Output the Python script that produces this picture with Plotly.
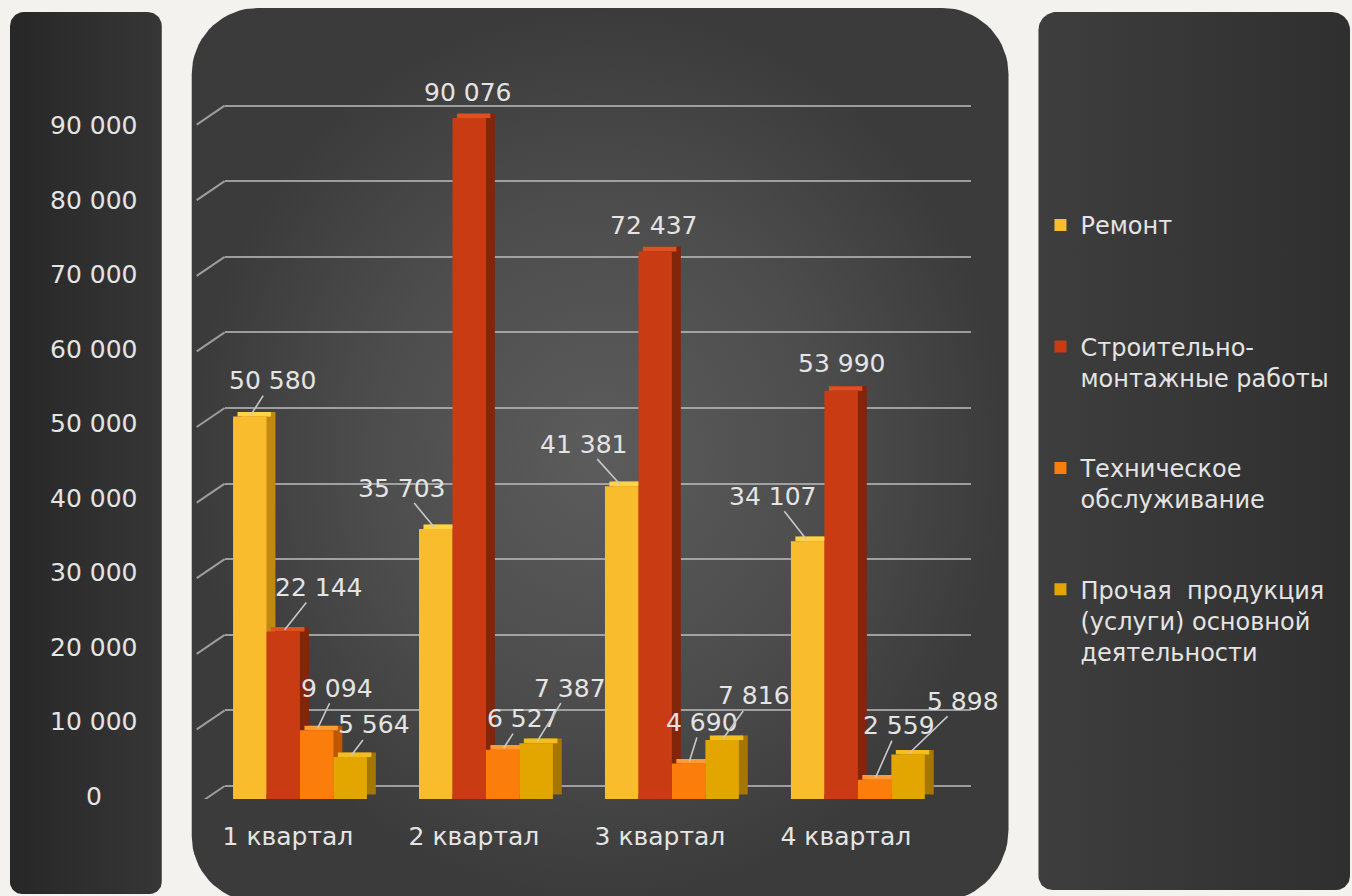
import numpy as np
import plotly.graph_objects as go

# ---------------- data ----------------
quarters = ["1 квартал", "2 квартал", "3 квартал", "4 квартал"]
series_names = [
    "Ремонт<br> ",
    "Строительно-<br>монтажные работы",
    "Техническое<br>обслуживание",
    "Прочая  продукция<br>(услуги) основной<br>деятельности",
]
remont = [50580, 35703, 41381, 34107]
smr = [22144, 90076, 72437, 53990]
tech = [9094, 6527, 4690, 2559]
other = [5564, 7387, 7816, 5898]
y_ticks = [0, 10000, 20000, 30000, 40000, 50000, 60000, 70000, 80000, 90000]
y_tick_labels = ["0", "10 000", "20 000", "30 000", "40 000", "50 000",
                 "60 000", "70 000", "80 000", "90 000"]

series_values = [remont, smr, tech, other]

# ---------------- styles ----------------
FONT = "DejaVu Sans"
TXT = "#e4e4e4"
front_colors = ["#f9bc2c", "#c93b12", "#fb7d0b", "#e3a500"]
side_colors = ["#c28812", "#82250a", "#bd5802", "#a67700"]
top_colors = ["#ffd448", "#df5220", "#ff9a34", "#f3bf1c"]
BAR_W = 0.18
GROUP_START = -0.36
DX = 0.048   # depth (category units)
DY = 600     # depth (value units)

# label offsets in px (ax, ay) relative to each bar top, and arrow flag
label_ax = [[23, -34, -38, -35], [35, -2, -2, 0], [20, 20, 13, 24], [24, 34, 32, 55]]
label_ay = [[-36, -41, -42, -45], [-44, -26, -26, -27], [-42, -31, -41, -54], [-32, -55, -44, -53]]
label_arrow = [[True, True, True, True], [True, False, False, False],
               [True, True, True, True], [True, True, True, True]]

W, H = 1352, 896


def rrect(x0, y0, x1, y1, r_tl, r_tr, r_br, r_bl, n=18):
    xs, ys = [], []
    def arc(cx, cy, r, a0, a1):
        t = np.linspace(a0, a1, n)
        xs.extend(cx + r * np.cos(t))
        ys.extend(cy + r * np.sin(t))
    arc(x0 + r_tl, y0 + r_tl, r_tl, np.pi, 1.5 * np.pi)
    arc(x1 - r_tr, y0 + r_tr, r_tr, 1.5 * np.pi, 2 * np.pi)
    arc(x1 - r_br, y1 - r_br, r_br, 0, 0.5 * np.pi)
    arc(x0 + r_bl, y1 - r_bl, r_bl, 0.5 * np.pi, np.pi)
    xs.append(xs[0]); ys.append(ys[0])
    return xs, ys


fig = go.Figure()

# background panels (full-page subplot xy)
panels = [
    (rrect(8, 12, 160, 894, 14, 14, 12, 12), "horizontal", [[0, "#272727"], [1, "#363636"]]),
    (rrect(190, 8, 1008, 902, 66, 66, 72, 66), "radial",
     [[0, "#5c5c5c"], [0.55, "#4d4d4d"], [1, "#3b3b3b"]]),
    (rrect(1038, 12, 1350, 890, 18, 18, 14, 14), "horizontal", [[0, "#3e3e3e"], [1, "#2f2f2f"]]),
]
for (px, py), gtype, cs in panels:
    fig.add_trace(go.Scatter(
        x=px, y=py, mode="lines", fill="toself", line=dict(width=0, color="rgba(0,0,0,0)"),
        fillgradient=dict(type=gtype, colorscale=cs),
        xaxis="x", yaxis="y", hoverinfo="skip", showlegend=False))

# dummy traces to activate overlay axes
for ya in ["y3", "y4"]:
    fig.add_trace(go.Scatter(x=[quarters[0]], y=[0], mode="markers", marker=dict(opacity=0),
                             xaxis="x2", yaxis=ya, hoverinfo="skip", showlegend=False))

# side faces
for i, vals in enumerate(series_values):
    off = GROUP_START + i * BAR_W
    fig.add_trace(go.Bar(x=quarters, y=vals, base=[DY] * len(vals), offset=off + DX, width=BAR_W,
                         marker=dict(color=side_colors[i], line=dict(width=0)),
                         xaxis="x2", yaxis="y2", legendgroup=f"g{i}", showlegend=False, hoverinfo="skip"))
# top faces
for i, vals in enumerate(series_values):
    off = GROUP_START + i * BAR_W
    fig.add_trace(go.Bar(x=quarters, y=[DY] * len(vals), base=vals, offset=off + DX / 2, width=BAR_W,
                         marker=dict(color=top_colors[i], line=dict(width=0)),
                         xaxis="x2", yaxis="y2", legendgroup=f"g{i}", showlegend=False, hoverinfo="skip"))
# front faces
for i, vals in enumerate(series_values):
    off = GROUP_START + i * BAR_W
    fig.add_trace(go.Bar(x=quarters, y=vals, offset=off, width=BAR_W, name=series_names[i],
                         marker=dict(color=front_colors[i], line=dict(width=0)),
                         xaxis="x2", yaxis="y2", legendgroup=f"g{i}", showlegend=True))

annotations = []
# data labels
for i, vals in enumerate(series_values):
    off = GROUP_START + i * BAR_W
    for q, v in enumerate(vals):
        txt = f"{v:,}".replace(",", " ")
        common = dict(x=q + off + BAR_W / 2, y=v, xref="x2", yref="y2", text=txt, borderpad=0,
                      font=dict(family=FONT, size=25, color=TXT))
        if label_arrow[i][q]:
            annotations.append(dict(**common, showarrow=True, arrowhead=0, arrowwidth=1.6,
                                    arrowcolor="#c8c8c8", ax=label_ax[i][q], ay=label_ay[i][q],
                                    standoff=2))
        else:
            annotations.append(dict(**common, showarrow=False, xshift=label_ax[i][q],
                                    yshift=-label_ay[i][q]))
# left value-axis labels
for t, lab in zip(y_ticks, y_tick_labels):
    annotations.append(dict(x=92 / W, y=t, xref="paper", yref="y4", text=lab, showarrow=False,
                            xanchor="center", yanchor="middle",
                            font=dict(family=FONT, size=25, color=TXT)))

shapes = []
for t in y_ticks:
    shapes.append(dict(type="line", xref="paper", x0=195 / W, x1=223 / W, yref="y3",
                       ysizemode="pixel", yanchor=t, y0=-19, y1=0,
                       line=dict(color="rgba(190,190,190,0.75)", width=2), layer="above"))

plot_bottom = 1 - 799 / H
plot_top = 1 - 80.8 / H

fig.update_layout(
    width=W, height=H, margin=dict(l=0, r=0, t=0, b=0),
    paper_bgcolor="#f3f2ee", plot_bgcolor="rgba(0,0,0,0)",
    barmode="overlay", hovermode=False,
    font=dict(family=FONT, color=TXT),
    xaxis=dict(domain=[0, 1], range=[0, W], visible=False, fixedrange=True),
    yaxis=dict(domain=[0, 1], range=[H, 0], visible=False, fixedrange=True),
    xaxis2=dict(domain=[223 / W, 970 / W], anchor="y2", type="category", range=[-0.405, 3.606],
                showgrid=False, zeroline=False, showline=False, ticks="",
                tickfont=dict(family=FONT, size=25, color=TXT), ticklabelshift=-12,
                ticklabelstandoff=20),
    yaxis2=dict(domain=[plot_bottom, plot_top], anchor="x2", range=[0, 95000], visible=False),
    yaxis3=dict(domain=[plot_bottom, plot_top], anchor="x2", overlaying="y2", range=[-1720, 93280],
                showgrid=True, gridcolor="rgba(190,190,190,0.75)", gridwidth=2, tickvals=y_ticks,
                showticklabels=False, zeroline=False, showline=False, ticks=""),
    yaxis4=dict(domain=[plot_bottom, plot_top], anchor="x2", overlaying="y2", range=[-400, 96016],
                visible=False),
    legend=dict(x=1040 / W, y=1 - 203 / H, xanchor="left", yanchor="top",
                bgcolor="rgba(0,0,0,0)", traceorder="grouped", tracegroupgap=56, valign="top",
                font=dict(family=FONT, size=24, color=TXT), itemclick=False, itemdoubleclick=False),
    annotations=annotations, shapes=shapes,
)

fig.write_html(
    "out.html",
    config={"displayModeBar": False, "staticPlot": False},
    post_script="document.body.style.margin='0';document.body.style.overflow='hidden';"
                "document.body.style.background='#f3f2ee';",
)
